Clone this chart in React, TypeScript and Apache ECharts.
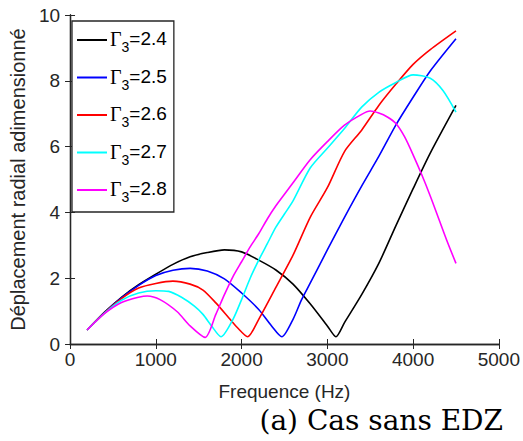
import React, { useEffect, useRef } from "react";
import * as echarts from "echarts";

const gammaLabels = ["2.4", "2.5", "2.6", "2.7", "2.8"];
const colors = ["#000000", "#0000ff", "#ff0000", "#00ffff", "#ff00ff"];

const freq24 = [200, 400, 600, 800, 1000, 1200, 1400, 1600, 1800, 2000, 2200, 2400, 2600, 2800, 3000, 3100, 3200, 3400, 3600, 3800, 4000, 4200, 4500];
const vals24 = [0.43, 0.96, 1.42, 1.80, 2.12, 2.42, 2.65, 2.78, 2.86, 2.80, 2.55, 2.25, 1.82, 1.22, 0.55, 0.22, 0.65, 1.50, 2.45, 3.60, 4.72, 5.80, 7.25];

const freq25 = [200, 400, 600, 800, 1000, 1200, 1400, 1600, 1800, 2000, 2200, 2350, 2470, 2600, 2700, 2800, 3000, 3200, 3400, 3600, 3800, 4000, 4200, 4500];
const vals25 = [0.43, 0.95, 1.40, 1.78, 2.08, 2.24, 2.30, 2.22, 1.98, 1.55, 1.05, 0.55, 0.22, 0.75, 1.35, 1.85, 2.86, 3.85, 4.80, 5.70, 6.66, 7.50, 8.30, 9.28];

const freq26 = [200, 400, 600, 800, 1000, 1200, 1400, 1550, 1700, 1850, 1950, 2070, 2200, 2400, 2600, 2800, 3000, 3200, 3400, 3600, 3800, 4000, 4200, 4500];
const vals26 = [0.43, 0.94, 1.38, 1.70, 1.84, 1.91, 1.82, 1.64, 1.25, 0.80, 0.50, 0.22, 0.75, 1.72, 2.70, 3.85, 4.75, 5.85, 6.50, 7.25, 7.90, 8.50, 8.95, 9.52];

const freq27 = [200, 400, 600, 800, 1000, 1150, 1300, 1450, 1550, 1650, 1760, 1900, 2000, 2100, 2200, 2300, 2400, 2500, 2600, 2800, 3000, 3200, 3400, 3600, 3800, 4000, 4200, 4350, 4500];
const vals27 = [0.43, 0.93, 1.33, 1.55, 1.62, 1.60, 1.42, 1.15, 0.90, 0.55, 0.22, 0.75, 1.35, 2.00, 2.55, 3.05, 3.55, 3.95, 4.35, 5.35, 5.95, 6.55, 7.20, 7.65, 7.95, 8.18, 8.08, 7.70, 7.05];

const freq28 = [200, 400, 600, 800, 900, 1050, 1250, 1400, 1575, 1700, 1800, 1900, 2000, 2100, 2200, 2300, 2400, 2500, 2600, 2800, 3000, 3200, 3400, 3500, 3600, 3700, 3800, 3900, 4000, 4100, 4200, 4300, 4400, 4500];
const vals28 = [0.43, 0.92, 1.26, 1.42, 1.46, 1.35, 0.98, 0.55, 0.20, 0.90, 1.50, 2.05, 2.50, 2.95, 3.35, 3.80, 4.20, 4.55, 4.90, 5.60, 6.15, 6.65, 6.98, 7.08, 7.02, 6.90, 6.70, 6.30, 5.75, 5.15, 4.50, 3.80, 3.10, 2.45];

const freqs = [freq24, freq25, freq26, freq27, freq28];
const values = [vals24, vals25, vals26, vals27, vals28];

const xTicks = [0, 1000, 2000, 3000, 4000, 5000];
const yTicks = [0, 2, 4, 6, 8, 10];

const axisColor = "#262626";
const font = "'Liberation Sans', Arial, sans-serif";

export default function App() {
  const ref = useRef<HTMLDivElement>(null);
  useEffect(() => {
    if (!ref.current) return;
    const chart = echarts.init(ref.current, null, { renderer: "svg" });
    const names = gammaLabels.map((g) => "Γ3=" + g);
    const axisLine = { show: true, lineStyle: { color: axisColor, width: 1.3 } };
    const axisTick = { show: true, inside: true, length: 5, lineStyle: { color: axisColor } };
    chart.setOption({
      animation: false,
      backgroundColor: "#ffffff",
      grid: { left: 64, right: 21, top: 15, bottom: 97, containLabel: false },
      xAxis: [
        {
          type: "value",
          min: xTicks[0],
          max: xTicks[xTicks.length - 1],
          interval: 1000,
          position: "bottom",
          axisLine,
          axisTick,
          axisLabel: { color: axisColor, fontSize: 19, fontFamily: font, margin: 6, formatter: (v: number) => String(v) },
          splitLine: { show: false },
          name: "Frequence (Hz)",
          nameLocation: "middle",
          nameGap: 38,
          nameTextStyle: { color: axisColor, fontSize: 19, fontFamily: font },
        },
        {
          type: "value",
          min: xTicks[0],
          max: xTicks[xTicks.length - 1],
          interval: 1000,
          position: "top",
          axisLine,
          axisTick,
          axisLabel: { show: false },
          splitLine: { show: false },
        },
      ],
      yAxis: [
        {
          type: "value",
          min: yTicks[0],
          max: yTicks[yTicks.length - 1],
          interval: 2,
          position: "left",
          axisLine,
          axisTick,
          axisLabel: { color: axisColor, fontSize: 19, fontFamily: font, margin: 10 },
          splitLine: { show: false },
          name: "Déplacement radial adimensionné",
          nameLocation: "middle",
          nameGap: 37,
          nameTextStyle: { color: axisColor, fontSize: 20, fontFamily: font },
        },
        {
          type: "value",
          min: yTicks[0],
          max: yTicks[yTicks.length - 1],
          interval: 2,
          position: "right",
          axisLine,
          axisTick,
          axisLabel: { show: false },
          splitLine: { show: false },
        },
      ],
      legend: {
        orient: "vertical",
        left: 72,
        top: 21,
        padding: [8, 7, 8, 5],
        itemGap: 12.5,
        itemWidth: 30,
        itemHeight: 14,
        borderColor: axisColor,
        borderWidth: 1.3,
        backgroundColor: "#ffffff",
        icon: "path://M0,6 L30,6 L30,8 L0,8 Z",
        data: names.map((n, i) => ({ name: n, itemStyle: { color: colors[i] } })),
        formatter: (name: string) => {
          const v = name.split("=")[1];
          return "{g|Γ}{s|3}{t|=" + v + "}";
        },
        textStyle: {
          padding: [0, 0, 0, -2],
          rich: {
            g: { fontFamily: "'Liberation Serif', 'Times New Roman', serif", fontSize: 20, color: "#000", lineHeight: 22, verticalAlign: "top" },
            s: { fontFamily: font, fontSize: 14, color: "#000", lineHeight: 22, verticalAlign: "top", padding: [11, 0, 0, 0] },
            t: { fontFamily: font, fontSize: 19, color: "#000", lineHeight: 22, verticalAlign: "top" },
          },
        },
      },
      series: names.map((n, i) => ({
        name: n,
        type: "line",
        data: freqs[i].map((f, j) => [f, values[i][j]]),
        showSymbol: false,
        smooth: 0.25,
        lineStyle: { color: colors[i], width: 1.6 },
        itemStyle: { color: colors[i] },
      })),
      graphic: [
        {
          type: "text",
          right: 20,
          top: 406,
          style: {
            text: "(a) Cas sans EDZ",
            fill: "#000",
            font: "28px 'DejaVu Serif', 'Liberation Serif', serif",
          },
        },
      ],
    });
    return () => chart.dispose();
  }, []);
  return <div ref={ref} style={{ position: "fixed", left: 0, top: 0, width: 523, height: 441 }} />;
}
